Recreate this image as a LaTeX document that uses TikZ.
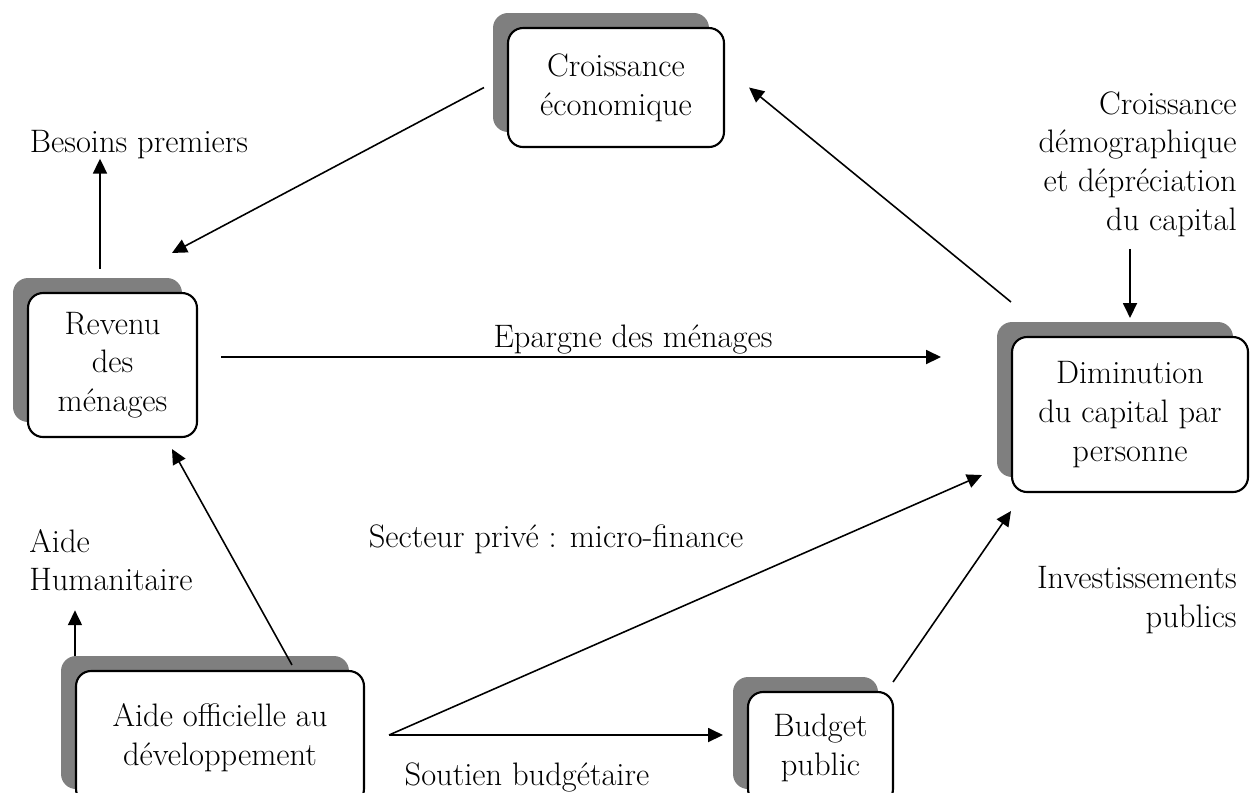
\documentclass[tikz,border=0pt]{standalone}
\usepackage{tikz}
\usetikzlibrary{arrows.meta}
\usetikzlibrary{shadows}
\usetikzlibrary{positioning}
\definecolor{ombre}{HTML}{7F7F7F}
\tikzset{
	boite/.style={draw, line width=1.2pt, rounded corners=0.3cm, fill=white, align=center, inner sep=0pt,
		general shadow={fill=ombre, shadow xshift=-0.3cm, shadow yshift=0.3cm}},
	fleche/.style={line width=0.9pt, -{Triangle[length=8.5pt,width=8pt]}},
	etiq/.style={inner sep=0pt}
}

\begin{document}
\begin{tikzpicture}[x=0.02cm, y=-0.02cm, font=\fontsize{18.5}{22}\selectfont]
		\useasboundingbox (0,0) rectangle (1250,792);
		\clip (0,0) rectangle (1250,792);
		\node[boite, minimum width=4.32cm, minimum height=2.38cm] (cro) at (616,87.5) {Croissance\\économique};
		\node[boite, minimum width=3.38cm, minimum height=2.88cm] (rev) at (112.5,365) {Revenu\\des\\ménages};
		\node[boite, minimum width=4.72cm, minimum height=3.1cm] (dim) at (1130,414.5) {Diminution\\du capital par\\personne};
		\node[boite, minimum width=5.76cm, minimum height=2.66cm] (aid) at (220,737.5) {Aide officielle au\\développement};
		\node[boite, minimum width=2.9cm, minimum height=2.24cm] (bud) at (820.5,748) {Budget\\public};
		\node[etiq, anchor=base] (bes) at (139,152) {Besoins premiers};
		\node[etiq, anchor=east, align=right] (demo) at (1237,164) {Croissance\\démographique\hspace*{0.3em}\\et dépréciation\\du capital};
		\node[etiq, anchor=base] (epa) at (633,347) {Epargne des ménages};
		\node[etiq, anchor=west, align=left] (hum) at (29,560) {Aide\\Humanitaire};
		\node[etiq, anchor=base] (sec) at (556,547) {Secteur privé : micro-finance};
		\node[etiq, anchor=east, align=right] (inv) at (1237,600) {Investissements\\publics};
		\node[etiq, anchor=base] (sou) at (527,785) {Soutien budgétaire};
		\coordinate (r1) at ([xshift=-0.25cm, yshift=0.46cm]rev.north);
		\coordinate (r2) at ([xshift=1.19cm, yshift=0.78cm]rev.north);
		\coordinate (r3) at ([xshift=1.19cm, yshift=-0.22cm]rev.south);
		\coordinate (e1) at ([xshift=0.46cm, yshift=0.16cm]rev.east);
		\coordinate (e0) at (e1 -| dim.west);
		\coordinate (e2) at ([xshift=-1.4cm]e0);
		\coordinate (c1) at ([xshift=-0.46cm]cro.west);
		\coordinate (c2) at ([xshift=0.48cm]cro.east);
		\coordinate (d1) at ([yshift=0.68cm]dim.north west);
		\coordinate (d2) at ([xshift=-0.58cm, yshift=0.36cm]dim.south west);
		\coordinate (d3) at ([yshift=-0.36cm]dim.south west);
		\coordinate (d4) at ([yshift=0.36cm]dim.north);
		\coordinate (d5) at ([yshift=-0.24cm]demo.south);
		\coordinate (a1) at ([xshift=1.44cm, yshift=0.1cm]aid.north);
		\coordinate (h1) at ([yshift=0.28cm]aid.north west);
		\coordinate (h2) at ([yshift=-0.38cm]hum.south);
		\coordinate (s) at ([xshift=0.48cm, yshift=0.05cm]aid.east);
		\coordinate (b0) at (s -| bud.west);
		\coordinate (b1) at ([xshift=-0.48cm]b0);
		\coordinate (b2) at ([xshift=-0.02cm, yshift=0.18cm]bud.north east);
		\draw[fleche] (r1) -- (r1 |- bes.south);
		\draw[fleche] (c1) -- (r2);
		\draw[fleche] (d1) -- (c2);
		\draw[fleche] (d4 |- d5) -- (d4);
		\draw[fleche] (e1) -- (e2);
		\draw[fleche] (a1) -- (r3);
		\draw[fleche] (h1) -- (h1 |- h2);
		\draw[fleche] (s) -- (b1);
		\draw[fleche] (s) -- (d2);
		\draw[fleche] (b2) -- (d3);
	\end{tikzpicture}
\end{document}
